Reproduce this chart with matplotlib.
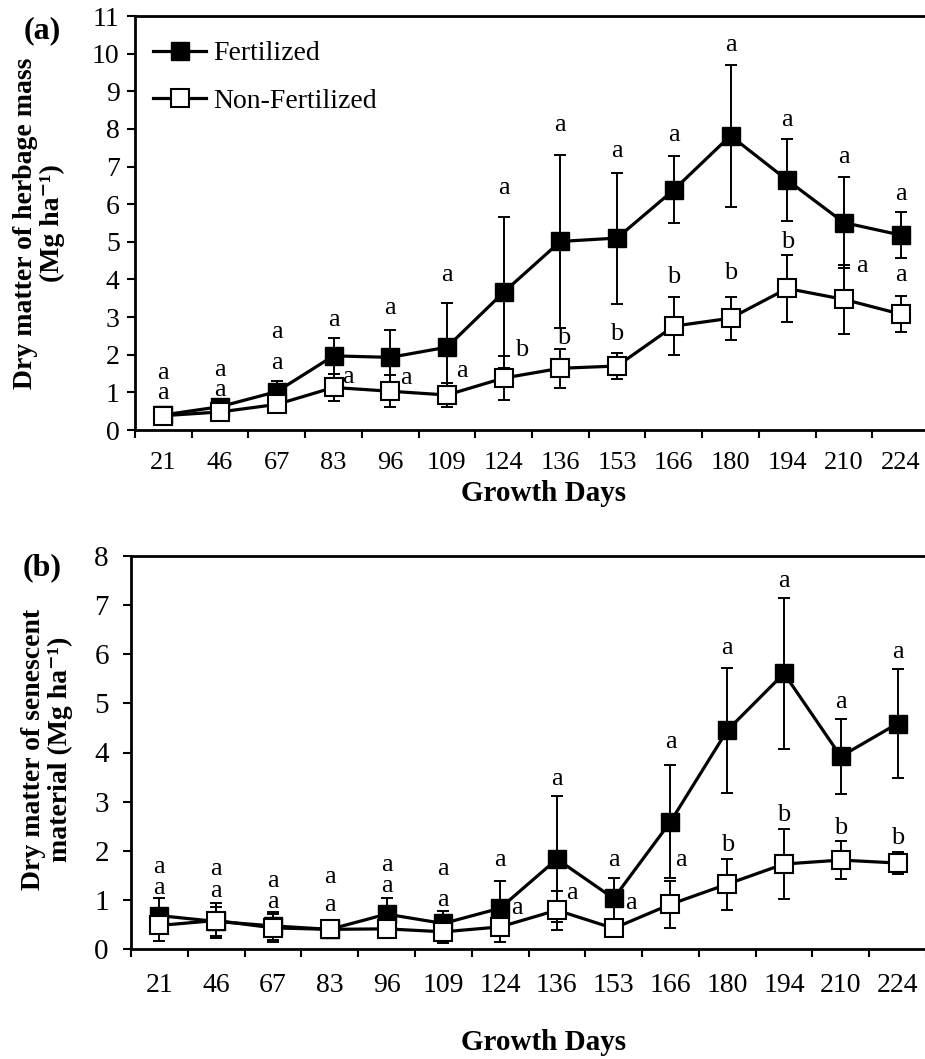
import matplotlib
matplotlib.use("Agg")
import matplotlib.pyplot as plt
import numpy as np

plt.rcParams['font.family'] = ['Liberation Serif', 'DejaVu Serif']

days = ['21', '46', '67', '83', '96', '109', '124', '136', '153', '166', '180', '194', '210', '224']

# (a) herbage mass, Mg ha-1
fert_a = [0.40, 0.62, 1.02, 1.97, 1.93, 2.20, 3.66, 5.01, 5.10, 6.38, 7.82, 6.64, 5.51, 5.18]
fert_a_err = [0.05, 0.08, 0.28, 0.47, 0.72, 1.18, 2.00, 2.31, 1.74, 0.89, 1.89, 1.10, 1.20, 0.62]
nonfert_a = [0.38, 0.48, 0.68, 1.13, 1.03, 0.93, 1.38, 1.64, 1.70, 2.76, 2.97, 3.76, 3.47, 3.08]
nonfert_a_err = [0.05, 0.06, 0.15, 0.35, 0.43, 0.33, 0.58, 0.52, 0.35, 0.78, 0.57, 0.89, 0.92, 0.47]
fert_a_letters = ['a'] * 14
nonfert_a_letters = ['a', 'a', 'a', 'a', 'a', 'a', 'b', 'b', 'b', 'b', 'b', 'b', 'a', 'a']

# (b) senescent material, Mg ha-1
fert_b = [0.68, 0.56, 0.47, 0.40, 0.71, 0.52, 0.83, 1.83, 1.03, 2.59, 4.45, 5.61, 3.92, 4.59]
fert_b_err = [0.36, 0.30, 0.29, 0.05, 0.33, 0.25, 0.56, 1.29, 0.41, 1.15, 1.28, 1.54, 0.76, 1.10]
nonfert_b = [0.48, 0.58, 0.43, 0.40, 0.41, 0.35, 0.45, 0.79, 0.42, 0.91, 1.32, 1.73, 1.81, 1.75]
nonfert_b_err = [0.31, 0.36, 0.29, 0.04, 0.05, 0.23, 0.30, 0.40, 0.10, 0.48, 0.52, 0.72, 0.38, 0.22]
fert_b_letters = ['a'] * 14
nonfert_b_letters = ['a'] * 10 + ['b'] * 4

# where the significance letters sit (data units)
fert_a_lab_y = [1.51, 1.59, 2.60, 2.92, 3.24, 4.12, 6.43, 8.10, 7.41, 7.84, 10.23, 8.24, 7.25, 6.27]
nonfert_a_lab_y = [0.98, 1.06, 1.78, 1.41, 1.38, 1.57, 2.13, 2.44, 2.55, 4.06, 4.17, 4.99, 4.36, 4.12]
nonfert_a_lab_dx = [0, 0, 0, 0.25, 0.28, 0.27, 0.32, 0.05, 0, 0, 0, 0, 0.32, 0]
fert_b_lab_y = [1.67, 1.62, 1.39, 1.46, 1.72, 1.62, 1.81, 3.47, 1.81, 4.21, 6.12, 7.50, 5.03, 6.04]
nonfert_b_lab_y = [1.25, 1.19, 0.95, 0.89, 1.29, 0.99, 0.83, 1.13, 0.93, 1.81, 2.11, 2.72, 2.46, 2.26]
nonfert_b_lab_dx = [0, 0, 0, 0, 0, 0, 0.30, 0.27, 0.30, 0.19, 0, 0, 0, 0]


def draw_panel(ax, fert, fert_err, nonfert, nonfert_err, ymax, xfs, yfs, xpad, ypad):
    x = np.arange(len(days))
    ekw = dict(fmt='none', ecolor='black', elinewidth=1.4, capsize=4.5, capthick=1.4, zorder=2)
    ax.errorbar(x, fert, yerr=fert_err, **ekw)
    ax.errorbar(x, nonfert, yerr=nonfert_err, **ekw)
    ax.plot(x, fert, '-s', color='black', mfc='black', mec='black', ms=13, lw=2.3,
            zorder=3, label='Fertilized')
    ax.plot(x, nonfert, '-s', color='black', mfc='white', mec='black', mew=1.5, ms=13, lw=2.3,
            zorder=4, label='Non-Fertilized')

    ax.set_xlim(-0.5, len(days) - 0.5)
    ax.set_ylim(0, ymax)
    ax.set_yticks(range(0, ymax + 1))
    ax.tick_params(axis='y', direction='out', length=6, width=1.5, labelsize=yfs, pad=ypad)

    # tick marks between categories, labels at the centres
    ax.set_xticks(np.arange(len(days) + 1) - 0.5)
    ax.set_xticklabels([])
    ax.set_xticks(x, minor=True)
    ax.set_xticklabels(days, minor=True)
    ax.tick_params(axis='x', which='major', direction='out', length=6, width=1.5)
    ax.tick_params(axis='x', which='minor', length=0, labelsize=xfs, pad=xpad)

    for s in ['left', 'bottom', 'top']:
        ax.spines[s].set_linewidth(2.0)
    ax.spines['right'].set_visible(False)


def put_letters(ax, letters, ys, dxs=None, fs=19):
    for i, (lt, yy) in enumerate(zip(letters, ys)):
        dx = dxs[i] if dxs else 0
        ax.text(i + dx, yy, lt, ha='center', va='center', fontsize=fs)


W, H = 925, 1059
fig = plt.figure(figsize=(W / 100, H / 100), dpi=100)

ax1 = fig.add_axes([135 / W, 1 - 430 / H, 794 / W, 414 / H])
draw_panel(ax1, fert_a, fert_a_err, nonfert_a, nonfert_a_err, 11, 19, 20, 16, 5)
put_letters(ax1, fert_a_letters, fert_a_lab_y)
put_letters(ax1, nonfert_a_letters, nonfert_a_lab_y, nonfert_a_lab_dx)
ax1.legend(loc='upper left', bbox_to_anchor=(0.023, 0.94), frameon=False, fontsize=20,
           handlelength=1.9, handletextpad=0.25, labelspacing=0.8, borderpad=0, borderaxespad=0)

ax2 = fig.add_axes([131 / W, 1 - 949 / H, 795 / W, 393 / H])
draw_panel(ax2, fert_b, fert_b_err, nonfert_b, nonfert_b_err, 8, 20, 21, 17, 10)
put_letters(ax2, fert_b_letters, fert_b_lab_y)
put_letters(ax2, nonfert_b_letters, nonfert_b_lab_y, nonfert_b_lab_dx)

# axis titles and panel tags
fig.text(39 / W, 1 - 223 / H, 'Dry matter of herbage mass\n(Mg ha\u207b\u00b9)', rotation=90,
         ha='center', va='center', multialignment='center', fontsize=20, fontweight='bold',
         linespacing=1.05)
fig.text(47 / W, 1 - 749 / H, 'Dry matter of senescent\nmaterial (Mg ha\u207b\u00b9)', rotation=90,
         ha='center', va='center', multialignment='center', fontsize=20, fontweight='bold',
         linespacing=1.05)
fig.text(544 / W, 1 - 494 / H, 'Growth Days', ha='center', va='center', fontsize=21, fontweight='bold')
fig.text(544 / W, 1 - 1043 / H, 'Growth Days', ha='center', va='center', fontsize=21, fontweight='bold')
fig.text(42 / W, 1 - 31 / H, '(a)', ha='center', va='center', fontsize=23, fontweight='bold')
fig.text(42 / W, 1 - 568 / H, '(b)', ha='center', va='center', fontsize=23, fontweight='bold')

fig.savefig('out.png', dpi=100)
